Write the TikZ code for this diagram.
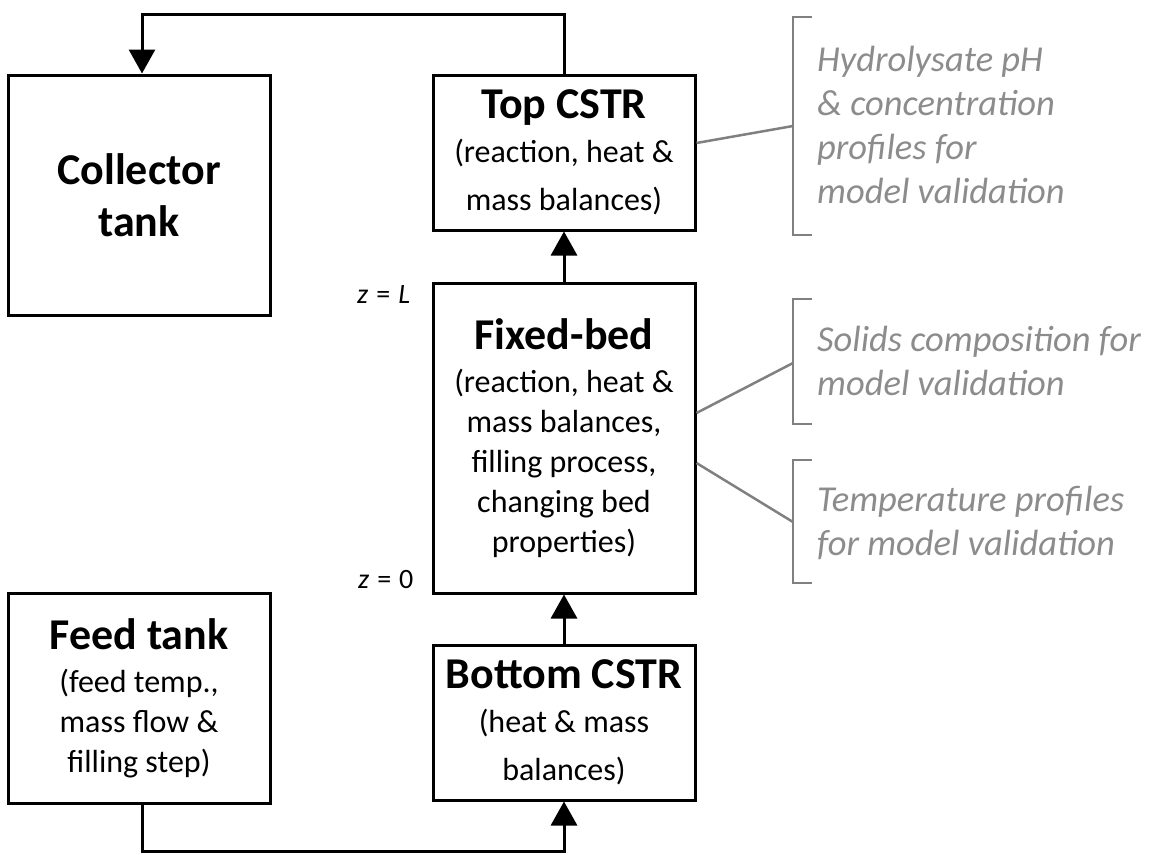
\documentclass[tikz,border=0pt]{standalone}
\usepackage{fontspec}
\setmainfont{Carlito}
\usetikzlibrary{arrows.meta}
\definecolor{notegray}{RGB}{140,140,140}
\definecolor{linegray}{RGB}{128,128,128}
\begin{document}
\begin{tikzpicture}[x=1pt,y=-1pt,
  box/.style={draw, line width=3pt, minimum width=262pt, inner sep=0pt, align=center},
  hd/.style={font=\fontsize{44}{52}\selectfont\bfseries},
  bd/.style={font=\fontsize{32}{40}\selectfont},
  flow/.style={line width=3pt, -{Triangle[length=24pt,width=26pt]}},
  note/.style={font=\fontsize{36.5}{44}\selectfont\itshape, text=notegray, align=left, anchor=base west, inner sep=0pt},
  brack/.style={draw=linegray, line width=2.5pt},
  zlab/.style={font=\fontsize{28}{30}\selectfont, anchor=base west, inner sep=0pt}]
\useasboundingbox (0,0) rectangle (1151,854);

% boxes
\node[box, minimum height=240pt, hd] (coll) at (139,195) {Collector\\tank};
\node[box, minimum height=155pt, font=\fontsize{32}{48}\selectfont] (top) at (564,152.5)
  {{\fontsize{44}{48}\selectfont\bfseries Top CSTR}\\[-4pt](reaction, heat \&\\mass balances)};
\node[box, minimum height=310pt, bd] (bed) at (564,438)
  {{\fontsize{44}{48}\selectfont\bfseries Fixed-bed}\\[3pt](reaction, heat \&\\mass balances,\\filling process,\\changing bed\\properties)};
\node[box, minimum height=155pt, font=\fontsize{32}{48}\selectfont] (bot) at (564,722.5)
  {{\fontsize{44}{48}\selectfont\bfseries Bottom CSTR}\\[-4pt](heat \& mass\\balances)};
\node[box, minimum height=210pt, bd] (feed) at (139,698)
  {{\fontsize{44}{48}\selectfont\bfseries Feed tank}\\[3pt](feed temp.,\\mass flow \&\\filling step)};

% z labels
\node[zlab] (zL) at (357,303) {\textit{z}\hspace{8pt}=\hspace{8pt}\textit{L}};
\node[zlab] (z0) at (358,588) {\textit{z}\hspace{8pt}=\hspace{8pt}0};

% flow connectors
\coordinate (tl) at (142,14);
\coordinate (bl) at (142,851);
\draw[flow] (top.north) |- (tl) -- (tl |- coll.north);
\draw[flow] (bed.north) -- (top.south);
\draw[flow] (bot.north) -- (bed.south);
\draw[flow] (feed.south -| bl) -- (bl) -| (bot.south);

% brackets
\coordinate (b1) at (793,126);
\coordinate (b2) at (793,363);
\coordinate (b3) at (793,522);
\draw[brack] (812,17) -- (793,17) -- (793,235) -- (812,235);
\draw[brack] (812,299) -- (793,299) -- (793,424) -- (812,424);
\draw[brack] (812,460) -- (793,460) -- (793,583) -- (812,583);
\draw[brack] (top.east |- 0,143) -- (b1);
\draw[brack] (bed.east |- 0,413) -- (b2);
\draw[brack] (bed.east |- 0,463) -- (b3);

% notes (anchored at the baseline of their last line)
\node[note] (n1) at (817,203) {Hydrolysate pH\\\& concentration\\profiles for\\model validation};
\node[note] (n2) at (817,395) {Solids composition for\\model validation};
\node[note] (n3) at (817,555) {Temperature profiles\\for model validation};
\end{tikzpicture}
\end{document}
